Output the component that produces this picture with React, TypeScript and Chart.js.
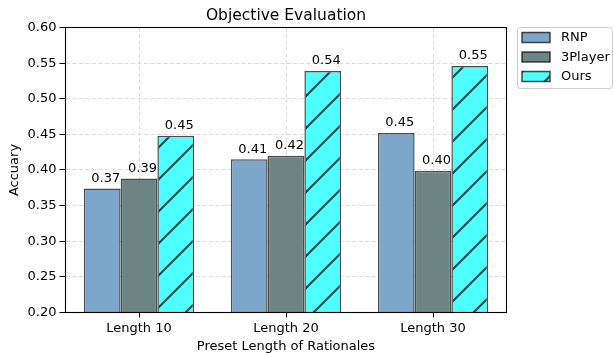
import React, { useEffect, useRef } from "react";
import { Chart, registerables } from "chart.js";

Chart.register(...registerables);

const categories = ["Length 10", "Length 20", "Length 30"];
const seriesNames = ["RNP", "3Player", "Ours"];
const rnpValues = [0.374, 0.415, 0.452];
const threePlayerValues = [0.388, 0.42, 0.399];
const oursValues = [0.448, 0.539, 0.546];
const yMin = 0.2;
const yMax = 0.6;
const yStep = 0.05;
const titleText = "Objective Evaluation";
const xTitle = "Preset Length of Rationales";
const yTitle = "Accuary";

const FONT = '"DejaVu Sans", sans-serif';
const EDGE = "rgba(0,0,0,0.7)";

function makeHatch(): CanvasPattern | string {
  const c = document.createElement("canvas");
  c.width = 32;
  c.height = 32;
  const g = c.getContext("2d");
  if (!g) return "#4dffff";
  g.fillStyle = "#4dffff";
  g.fillRect(0, 0, 32, 32);
  g.strokeStyle = "#174d4d";
  g.lineWidth = 2.2;
  g.beginPath();
  g.moveTo(-4, 22);
  g.lineTo(22, -4);
  g.moveTo(14, 36);
  g.lineTo(36, 14);
  g.stroke();
  return g.createPattern(c, "repeat") || "#4dffff";
}

export default function App() {
  const ref = useRef<HTMLCanvasElement | null>(null);

  useEffect(() => {
    if (!ref.current) return;
    const hatch = makeHatch();
    const fills = ["#7da7ca", "#6d8484", hatch];

    const overlay = {
      id: "overlay",
      afterDatasetsDraw(chart: any) {
        const ctx = chart.ctx;
        ctx.save();
        ctx.font = `13px ${FONT}`;
        ctx.fillStyle = "#000";
        ctx.textAlign = "center";
        ctx.textBaseline = "alphabetic";
        chart.data.datasets.forEach((ds: any, i: number) => {
          const meta = chart.getDatasetMeta(i);
          meta.data.forEach((bar: any, j: number) => {
            ctx.fillText(Number(ds.data[j]).toFixed(2), bar.x + 3.5, bar.y - 6.5);
          });
        });
        ctx.restore();
      },
      afterDraw(chart: any) {
        const ctx = chart.ctx;
        const a = chart.chartArea;
        ctx.save();
        // frame
        ctx.strokeStyle = "#000";
        ctx.lineWidth = 1.1;
        ctx.strokeRect(a.left, a.top, a.right - a.left, a.bottom - a.top);
        // title
        ctx.fillStyle = "#000";
        ctx.font = `15.5px ${FONT}`;
        ctx.textAlign = "center";
        ctx.textBaseline = "alphabetic";
        ctx.fillText(titleText, (a.left + a.right) / 2, 19.5);
        // legend
        const lx = 517.5, ly = 27.5, lw = 95, lh = 61;
        ctx.beginPath();
        const r = 3;
        ctx.moveTo(lx + r, ly);
        ctx.lineTo(lx + lw - r, ly);
        ctx.quadraticCurveTo(lx + lw, ly, lx + lw, ly + r);
        ctx.lineTo(lx + lw, ly + lh - r);
        ctx.quadraticCurveTo(lx + lw, ly + lh, lx + lw - r, ly + lh);
        ctx.lineTo(lx + r, ly + lh);
        ctx.quadraticCurveTo(lx, ly + lh, lx, ly + lh - r);
        ctx.lineTo(lx, ly + r);
        ctx.quadraticCurveTo(lx, ly, lx + r, ly);
        ctx.closePath();
        ctx.fillStyle = "rgba(255,255,255,0.8)";
        ctx.fill();
        ctx.strokeStyle = "#cccccc";
        ctx.lineWidth = 1;
        ctx.stroke();
        ctx.font = `13px ${FONT}`;
        ctx.textAlign = "left";
        ctx.textBaseline = "middle";
        chart.data.datasets.forEach((ds: any, i: number) => {
          const cy = 37.5 + i * 19.5;
          ctx.fillStyle = ds.backgroundColor;
          ctx.fillRect(522, cy - 5, 28, 10);
          ctx.strokeStyle = EDGE;
          ctx.lineWidth = 1.5;
          ctx.strokeRect(522, cy - 5, 28, 10);
          ctx.fillStyle = "#000";
          ctx.fillText(ds.label, 561, cy + 0.5);
        });
        ctx.restore();
      },
    };

    const chart = new Chart(ref.current, {
      type: "bar",
      data: {
        labels: categories,
        datasets: [rnpValues, threePlayerValues, oursValues].map((vals, i) => ({
          label: seriesNames[i],
          data: vals,
          backgroundColor: fills[i] as any,
          borderColor: EDGE,
          borderWidth: 1.5,
          borderSkipped: false,
          categoryPercentage: 0.75,
          barPercentage: 1.0,
        })),
      },
      options: {
        responsive: false,
        animation: false,
        devicePixelRatio: 1,
        layout: { padding: { top: 27.5, right: 106.5, left: 0, bottom: 0 } },
        plugins: {
          legend: { display: false },
          title: { display: false },
          tooltip: { enabled: false },
        },
        scales: {
          x: {
            offset: true,
            grid: {
              offset: false,
              color: "#dcdcdc",
              lineWidth: 1,
              tickColor: "#000",
              tickLength: 5,
              tickBorderDash: [],
            },
            border: { display: false, dash: [4, 2.5] },
            ticks: { color: "#000", font: { family: FONT, size: 13 }, padding: 3 },
            title: {
              display: true,
              text: xTitle,
              color: "#000",
              font: { family: FONT, size: 13, lineHeight: 1.1 },
              padding: { top: 0, bottom: 0 },
            },
            afterFit(scale: any) {
              scale.height = 41.5;
            },
          },
          y: {
            min: yMin,
            max: yMax,
            grid: {
              color: "#dcdcdc",
              lineWidth: 1,
              tickColor: "#000",
              tickLength: 6,
              tickBorderDash: [],
            },
            border: { display: false, dash: [4, 2.5] },
            ticks: {
              stepSize: yStep,
              color: "#000",
              font: { family: FONT, size: 13 },
              padding: 3,
              callback: (v: any) => Number(v).toFixed(2),
            },
            title: {
              display: true,
              text: yTitle,
              color: "#000",
              font: { family: FONT, size: 13, lineHeight: 1.1 },
              padding: { top: 7, bottom: 0 },
            },
            afterFit(scale: any) {
              scale.width = 65.5;
            },
          },
        },
      },
      plugins: [overlay],
    } as any);

    return () => chart.destroy();
  }, []);

  return (
    <div style={{ position: "absolute", left: 0, top: 0, width: 613, height: 354, background: "#fff" }}>
      <canvas ref={ref} width={613} height={354} style={{ display: "block" }} />
    </div>
  );
}
